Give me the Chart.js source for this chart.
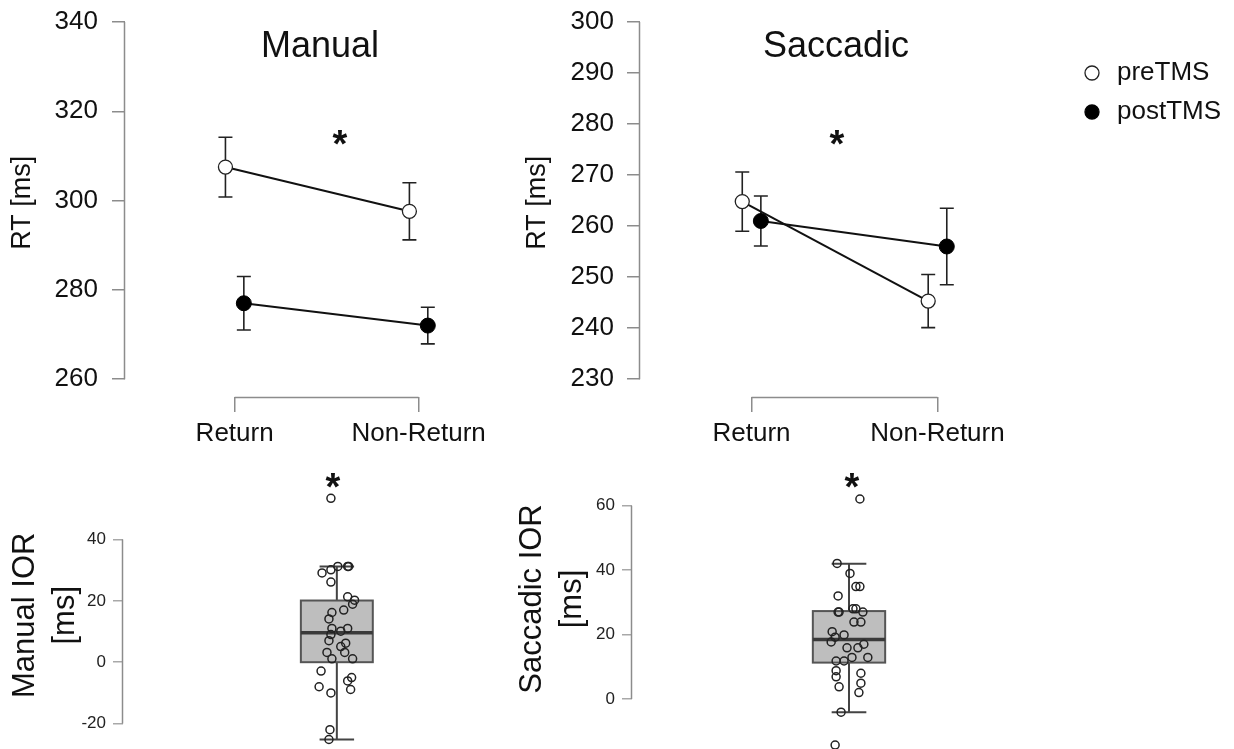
<!DOCTYPE html>
<html>
<head>
<meta charset="utf-8">
<title>Manual / Saccadic RT and IOR</title>
<script src="https://cdn.jsdelivr.net/npm/chart.js@4.4.1/dist/chart.umd.min.js"></script>
<style>
  html, body { margin: 0; padding: 0; background: #fff; overflow: hidden; width: 1234px; height: 749px; }
  canvas { position: absolute; }
</style>
</head>
<body>
<canvas id="manualRT" width="520" height="460" style="left:0;top:0"></canvas>
<canvas id="saccRT" width="714" height="460" style="left:520px;top:0"></canvas>
<canvas id="manualIOR" width="500" height="289" style="left:0;top:460px"></canvas>
<canvas id="saccIOR" width="734" height="340" style="left:500px;top:440px"></canvas>
<script>
/* ---------------------------------------------------------------- */
/* 數據 */
var conditions = ['Return', 'Non-Return'];

var manualPre    = [307.5, 297.6];
var manualPreSE  = [6.7, 6.4];
var manualPost   = [277.0, 272.0];
var manualPostSE = [6.0, 4.1];

var saccPre      = [264.8, 245.3];
var saccPreSE    = [5.8, 5.2];
var saccPost     = [261.0, 256.0];
var saccPostSE   = [4.9, 7.5];

var manualTicks = [260, 280, 300, 320, 340];
var saccTicks   = [230, 240, 250, 260, 270, 280, 290, 300];

// IOR per participant (ms) and the horizontal jitter they were drawn with
var manualIOR = [53.4, 31.2, 31.2, 31.2, 29.1, 30.1, 26.1, 21.3, 20.2, 18.9, 16.2, 14.1, 17.0, 11.0, 11.0, 10.1,
                 9.0, 7.0, 6.2, 5.1, 3.2, 3.2, 1.1, 1.1, -2.9, -5.0, -6.1, -8.0, -8.9, -10.0, -22.0, -25.2];
var manualJitter = [-0.06, 0.01, 0.11, 0.12, -0.15, -0.06, -0.06, 0.11, 0.18, 0.16, -0.05, -0.08, 0.07, -0.05, 0.11, 0.04,
                    -0.06, -0.08, 0.09, 0.04, -0.10, 0.08, -0.05, 0.16, -0.16, 0.15, 0.11, -0.18, 0.14, -0.06, -0.07, -0.08];
var saccIOR = [62.1, 42.1, 39.0, 34.9, 34.9, 32.0, 27.0, 27.0, 28.0, 28.0, 27.0, 23.9, 23.9, 20.9, 19.9, 19.2,
               17.7, 17.0, 15.9, 15.9, 12.9, 12.9, 11.8, 11.8, 8.8, 6.9, 8.0, 4.9, 3.8, 2.0, -4.1, -14.3];
var saccJitter = [0.11, -0.12, 0.01, 0.07, 0.11, -0.11, -0.11, -0.10, 0.04, 0.07, 0.14, 0.05, 0.12, -0.17, -0.05, -0.14,
                  -0.18, 0.15, -0.02, 0.09, 0.19, 0.03, -0.13, -0.05, -0.13, -0.13, 0.12, 0.12, -0.10, 0.10, -0.08, -0.14];

// whisker low, Q1, median, Q3, whisker high
var manualBox = [-25.2, 0.0, 9.6, 20.1, 31.2];
var saccBox   = [-4.1, 11.3, 18.5, 27.3, 42.0];

var manualIORTicks = [-20, 0, 20, 40];
var saccIORTicks   = [0, 20, 40, 60];

/* ---------------------------------------------------------------- */
Chart.defaults.font.family = '"Liberation Sans", Arial, Helvetica, sans-serif';
Chart.defaults.color = '#111';

var FONT = '"Liberation Sans", Arial, Helvetica, sans-serif';
var AXIS_GREY = '#8c8c8c';

function meanPoints(vals, shift) {
    return vals.map((v, i) => ({ x: i + 1 + shift, y: v }));
}

function noPadding(s) {
    s.paddingTop = 0; s.paddingBottom = 0; s.paddingLeft = 0; s.paddingRight = 0;
}

/* 誤差線 */
var errorBars = {
    id: 'errorBars',
    beforeDatasetsDraw(chart) {
        var ctx = chart.ctx, y = chart.scales.y;
        chart.data.datasets.forEach((ds, i) => {
            if (!ds.errors) return;
            var meta = chart.getDatasetMeta(i);
            ctx.save();
            ctx.strokeStyle = '#222';
            ctx.lineWidth = 1.6;
            meta.data.forEach((pt, j) => {
                var v = ds.data[j].y, e = ds.errors[j];
                var top = y.getPixelForValue(v + e), bot = y.getPixelForValue(v - e);
                ctx.beginPath();
                ctx.moveTo(pt.x, top); ctx.lineTo(pt.x, bot);
                ctx.moveTo(pt.x - 7, top); ctx.lineTo(pt.x + 7, top);
                ctx.moveTo(pt.x - 7, bot); ctx.lineTo(pt.x + 7, bot);
                ctx.stroke();
            });
            ctx.restore();
        });
    }
};

/* R 風格的軸線: only from first to last tick */
var rAxis = {
    id: 'rAxis',
    afterDraw(chart) {
        var ctx = chart.ctx, area = chart.chartArea;
        ctx.save();
        ctx.strokeStyle = AXIS_GREY;
        ctx.lineWidth = 1.5;
        Object.values(chart.scales).forEach(s => {
            if (!s.options.display || !s.ticks.length) return;
            var a = s.getPixelForValue(s.ticks[0].value);
            var b = s.getPixelForValue(s.ticks[s.ticks.length - 1].value);
            ctx.beginPath();
            if (s.isHorizontal()) {
                ctx.moveTo(a, area.bottom + 0.5); ctx.lineTo(b, area.bottom + 0.5);
            } else {
                ctx.moveTo(area.left - 0.5, a); ctx.lineTo(area.left - 0.5, b);
            }
            ctx.stroke();
        });
        ctx.restore();
    }
};

/* 文字標註 (titles, asterisks) */
var notes = {
    id: 'notes',
    afterDraw(chart, args, opts) {
        var ctx = chart.ctx;
        (opts.items || []).forEach(n => {
            ctx.save();
            ctx.font = n.font;
            ctx.fillStyle = '#111';
            ctx.textAlign = 'center';
            ctx.textBaseline = n.baseline || 'middle';
            ctx.fillText(n.text, n.x, n.y);
            ctx.restore();
        });
    }
};

/* 圖例 */
var dotLegend = {
    id: 'dotLegend',
    afterDraw(chart, args, opts) {
        if (!opts.show) return;
        var ctx = chart.ctx;
        chart.data.datasets.forEach((ds, i) => {
            var cy = opts.y + i * opts.gap;
            ctx.save();
            ctx.beginPath();
            ctx.arc(opts.x, cy, 7, 0, Math.PI * 2);
            ctx.fillStyle = ds.pointBackgroundColor;
            ctx.fill();
            ctx.lineWidth = 1.3;
            ctx.strokeStyle = ds.pointBorderColor;
            ctx.stroke();
            ctx.font = opts.font;
            ctx.fillStyle = '#111';
            ctx.textAlign = 'left';
            ctx.textBaseline = 'middle';
            ctx.fillText(ds.label, opts.textX, cy);
            ctx.restore();
        });
    }
};

/* 箱形圖 */
var boxPlot = {
    id: 'boxPlot',
    beforeDatasetsDraw(chart, args, opts) {
        if (!opts.stats) return;
        var ctx = chart.ctx, x = chart.scales.x, y = chart.scales.y, s = opts.stats;
        var cx = x.getPixelForValue(opts.at);
        var hw = x.getPixelForValue(opts.at + opts.halfWidth) - cx;
        var cw = x.getPixelForValue(opts.at + opts.capHalf) - cx;
        var yLo = y.getPixelForValue(s[0]), yQ1 = y.getPixelForValue(s[1]), yMed = y.getPixelForValue(s[2]);
        var yQ3 = y.getPixelForValue(s[3]), yHi = y.getPixelForValue(s[4]);
        ctx.save();
        ctx.strokeStyle = '#444';
        ctx.lineWidth = 2;
        ctx.beginPath();
        ctx.moveTo(cx, yLo); ctx.lineTo(cx, yHi);
        ctx.moveTo(cx - cw, yLo); ctx.lineTo(cx + cw, yLo);
        ctx.moveTo(cx - cw, yHi); ctx.lineTo(cx + cw, yHi);
        ctx.stroke();
        ctx.fillStyle = '#bebebe';
        ctx.fillRect(cx - hw, yQ3, hw * 2, yQ1 - yQ3);
        ctx.strokeStyle = '#555';
        ctx.strokeRect(cx - hw, yQ3, hw * 2, yQ1 - yQ3);
        ctx.strokeStyle = '#3a3a3a';
        ctx.lineWidth = 3.5;
        ctx.beginPath();
        ctx.moveTo(cx - hw, yMed); ctx.lineTo(cx + hw, yMed);
        ctx.stroke();
        ctx.restore();
    }
};

/* ---------------------------------------------------------------- */
/* 上排: 平均反應時間 */
function rtChart(id, cfg) {
    return new Chart(document.getElementById(id), {
        type: 'scatter',
        data: {
            datasets: [
                {
                    label: 'preTMS', data: meanPoints(cfg.pre, -0.05), errors: cfg.preSE,
                    showLine: true, borderColor: '#111', borderWidth: 2,
                    pointRadius: 7, pointBackgroundColor: '#ffffff', pointBorderColor: '#222', pointBorderWidth: 1.3
                },
                {
                    label: 'postTMS', data: meanPoints(cfg.post, 0.05), errors: cfg.postSE,
                    showLine: true, borderColor: '#111', borderWidth: 2,
                    pointRadius: 7.5, pointBackgroundColor: '#000000', pointBorderColor: '#000', pointBorderWidth: 1
                }
            ]
        },
        options: {
            responsive: false, animation: false, devicePixelRatio: 1, events: [],
            layout: { padding: { top: 22, left: 0, right: 0, bottom: 0 } },
            scales: {
                x: {
                    type: 'linear', min: cfg.xMin, max: cfg.xMax,
                    afterBuildTicks: s => { s.ticks = conditions.map((c, i) => ({ value: i + 1 })); },
                    ticks: { callback: v => conditions[v - 1], font: { size: 26 }, color: '#111', padding: 6, maxRotation: 0, autoSkip: false },
                    grid: { drawOnChartArea: false, tickLength: 15, color: AXIS_GREY, lineWidth: 1.5 },
                    border: { display: false },
                    afterFit: s => { s.height = 63; noPadding(s); }
                },
                y: {
                    min: cfg.yMin, max: cfg.yMax,
                    afterBuildTicks: s => { s.ticks = cfg.yTicks.map(v => ({ value: v })); },
                    ticks: { font: { size: 26 }, color: '#111', padding: cfg.tickPad },
                    grid: { drawOnChartArea: false, tickLength: 13, color: AXIS_GREY, lineWidth: 1.5 },
                    border: { display: false },
                    // leading en space lifts the rotated title a little above the axis centre
                    title: { display: true, text: '\u2002RT [ms]', font: { size: 27, lineHeight: 1.2 }, color: '#111', padding: { top: cfg.titlePad, bottom: 0 } },
                    afterFit: s => { s.width = cfg.yWidth; noPadding(s); }
                }
            },
            plugins: {
                legend: { display: false },
                tooltip: { enabled: false },
                notes: { items: cfg.notes },
                dotLegend: cfg.legend || { show: false }
            }
        },
        plugins: [errorBars, rAxis, notes, dotLegend]
    });
}

rtChart('manualRT', {
    pre: manualPre, preSE: manualPreSE, post: manualPost, postSE: manualPostSE,
    yTicks: manualTicks, yMin: 256.0, yMax: 340, xMin: 0.404, xMax: 2.505,
    yWidth: 125, tickPad: 14, titlePad: 6,
    notes: [
        { text: 'Manual', x: 320, y: 47, font: '36px ' + FONT },
        { text: '*', x: 340, y: 157, font: 'bold 38px ' + FONT, baseline: 'alphabetic' }
    ]
});

rtChart('saccRT', {
    pre: saccPre, preSE: saccPreSE, post: saccPost, postSE: saccPostSE,
    yTicks: saccTicks, yMin: 226.5, yMax: 300, xMin: 0.40, xMax: 3.549,
    yWidth: 120, tickPad: 13, titlePad: 1,
    notes: [
        { text: 'Saccadic', x: 316, y: 47, font: '36px ' + FONT },
        { text: '*', x: 317, y: 157, font: 'bold 38px ' + FONT, baseline: 'alphabetic' }
    ],
    legend: { show: true, x: 572, y: 73, gap: 39, textX: 597, font: '26px ' + FONT }
});

/* ---------------------------------------------------------------- */
/* 下排: IOR 箱形圖 */
function iorChart(id, cfg) {
    return new Chart(document.getElementById(id), {
        type: 'scatter',
        data: {
            datasets: [{
                label: cfg.title[0],
                data: cfg.vals.map((v, i) => ({ x: 1 + cfg.jitter[i], y: v })),
                pointRadius: 4, pointBorderWidth: 1.5, pointBorderColor: '#222',
                pointBackgroundColor: 'rgba(0,0,0,0)', clip: false
            }]
        },
        options: {
            responsive: false, animation: false, devicePixelRatio: 1, events: [],
            layout: { padding: cfg.padding },
            scales: {
                x: { type: 'linear', display: false, min: cfg.xMin, max: cfg.xMax },
                y: {
                    min: cfg.yMin, max: cfg.yMax,
                    afterBuildTicks: s => { s.ticks = cfg.yTicks.map(v => ({ value: v })); },
                    ticks: { font: { size: 17 }, color: '#222', padding: 7 },
                    grid: { drawOnChartArea: false, tickLength: 10, color: '#a8a8a8', lineWidth: 1.5 },
                    border: { display: false },
                    title: { display: true, text: cfg.title, font: { size: 31, lineHeight: 1.3 }, color: '#111', padding: { top: cfg.titlePad, bottom: 0 } },
                    afterFit: s => { s.width = cfg.yWidth; noPadding(s); }
                }
            },
            plugins: {
                legend: { display: false },
                tooltip: { enabled: false },
                boxPlot: { stats: cfg.box, at: 1, halfWidth: 0.365, capHalf: 0.175 },
                notes: { items: cfg.notes }
            }
        },
        plugins: [boxPlot, rAxis, notes]
    });
}

iorChart('manualIOR', {
    vals: manualIOR, jitter: manualJitter, box: manualBox, yTicks: manualIORTicks,
    yMin: -26.5, yMax: 57.1, xMin: -1.17, xMax: 2.60,
    padding: { top: 27, bottom: 0, left: 0, right: 0 },
    yWidth: 123, titlePad: 5, title: ['Manual IOR', '[ms]'],
    notes: [{ text: '*', x: 333, y: 40, font: 'bold 38px ' + FONT, baseline: 'alphabetic' }]
});

// canvas starts 20px higher so the plot area (451..747) is centred on the axis title
iorChart('saccIOR', {
    vals: saccIOR, jitter: saccJitter, box: saccBox, yTicks: saccIORTicks,
    yMin: -14.9, yMax: 77.0, xMin: -1.19, xMax: 4.83,
    padding: { top: 11, bottom: 33, left: 0, right: 0 },
    yWidth: 132, titlePad: 12, title: ['Saccadic IOR', '[ms]'],
    notes: [{ text: '*', x: 352, y: 60, font: 'bold 38px ' + FONT, baseline: 'alphabetic' }]
});
</script>
</body>
</html>
